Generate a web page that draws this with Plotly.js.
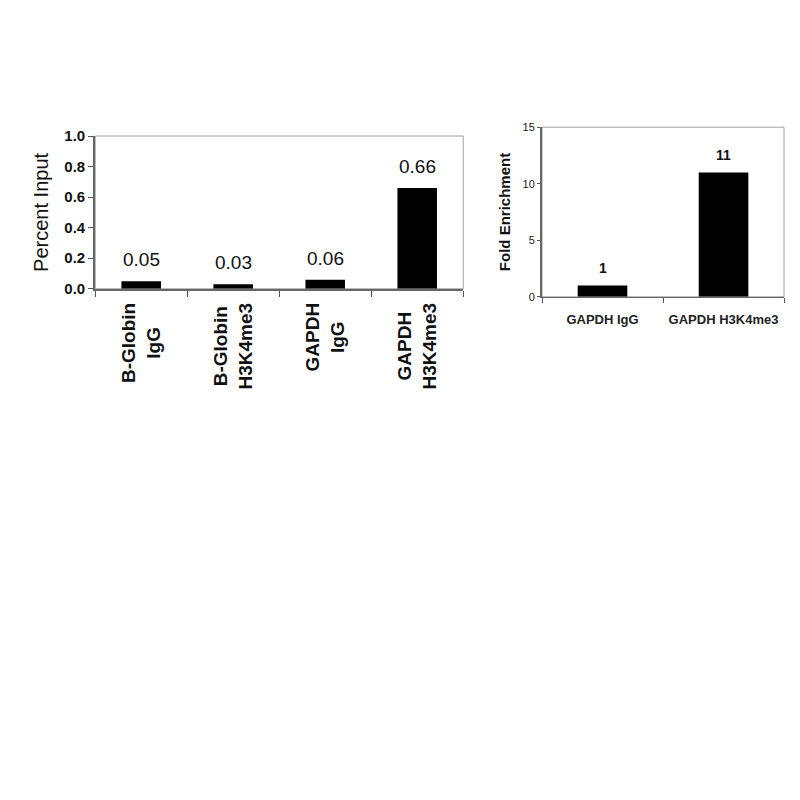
<!DOCTYPE html>
<html>
<head>
<meta charset="utf-8">
<script src="https://cdn.plot.ly/plotly-3.0.1.min.js"></script>
<style>
  html, body { margin: 0; padding: 0; background: #fff; }
  #chart { width: 800px; height: 800px; }
</style>
</head>
<body>
<div id="chart"></div>
<script>
  // left panel : percent input
  const pctCats = ['B-Globin<br>IgG', 'B-Globin<br>H3K4me3', 'GAPDH<br>IgG', 'GAPDH<br>H3K4me3'];
  const pctVals = [0.05, 0.03, 0.06, 0.66];
  const pctText = ['0.05', '0.03', '0.06', '0.66'];
  const pctTicks = [0, 0.2, 0.4, 0.6, 0.8, 1.0];

  // right panel : fold enrichment
  const foldCats = ['GAPDH IgG', 'GAPDH H3K4me3'];
  const foldVals = [1, 11];
  const foldText = ['1', '11'];
  const foldTicks = [0, 5, 10, 15];

  const fnt = 'Liberation Sans, Arial, sans-serif';

  let trace1 = { type: 'bar', x: pctCats, y: pctVals, xaxis: 'x', yaxis: 'y',
                 width: 0.43, marker: { color: '#000' }, hoverinfo: 'skip' };
  let trace2 = { type: 'bar', x: foldCats, y: foldVals, xaxis: 'x2', yaxis: 'y2',
                 width: 0.41, marker: { color: '#000' }, hoverinfo: 'skip' };

  let annots = [];
  for (let i = 0; i < pctCats.length; i++) {
    annots.push({ x: pctCats[i], y: pctVals[i], xref: 'x', yref: 'y', text: pctText[i],
                  showarrow: false, yanchor: 'bottom', yshift: 9,
                  font: { family: fnt, size: 19, color: '#111' } });
    // category names, rotated, lines centred on each other
    annots.push({ x: pctCats[i], y: 0, xref: 'x', yref: 'y domain', text: pctCats[i],
                  showarrow: false, textangle: -90, align: 'center',
                  xanchor: 'center', yanchor: 'top', yshift: -12,
                  font: { family: fnt, size: 19, color: '#111', weight: 'bold' } });
  }
  for (let i = 0; i < foldCats.length; i++) {
    annots.push({ x: foldCats[i], y: foldVals[i], xref: 'x2', yref: 'y2', text: foldText[i],
                  showarrow: false, yanchor: 'bottom', yshift: 7,
                  font: { family: fnt, size: 14, color: '#111', weight: 'bold' } });
  }

  let frame = (xr, yr) => ({ type: 'rect', xref: xr + ' domain', yref: yr + ' domain',
                             x0: 0, x1: 1, y0: 0, y1: 1, layer: 'below',
                             line: { color: '#a0a0a0', width: 1 } });

  let layout = {
    width: 800, height: 800, showlegend: false,
    paper_bgcolor: '#fff', plot_bgcolor: '#fff',
    margin: { l: 0, r: 0, t: 0, b: 0 },
    font: { family: fnt, color: '#111' },
    xaxis: { domain: [0.119, 0.579], anchor: 'y', type: 'category', tickson: 'boundaries',
             ticks: 'outside', ticklen: 6, tickcolor: '#555', tickwidth: 1,
             showline: true, linecolor: '#666', linewidth: 2, showgrid: false,
             showticklabels: false, fixedrange: true },
    yaxis: { domain: [0.639, 0.83], anchor: 'x', range: [0, 1], tickvals: pctTicks,
             tickformat: '.1f', ticks: 'outside', ticklen: 5, tickcolor: '#555',
             showline: true, linecolor: '#666', linewidth: 2, showgrid: false, zeroline: false,
             tickfont: { family: fnt, size: 15, weight: 'bold', color: '#111' },
             title: { text: 'Percent Input', standoff: 10, font: { family: fnt, size: 20, color: '#111' } } },
    xaxis2: { domain: [0.6775, 0.98], anchor: 'y2', type: 'category', tickson: 'boundaries',
              ticks: 'outside', ticklen: 5, tickcolor: '#555', tickwidth: 1,
              showline: true, linecolor: '#666', linewidth: 1.5, showgrid: false,
              tickangle: 0, ticklabelstandoff: 10,
              tickfont: { family: fnt, size: 13, weight: 'bold', color: '#222' } },
    yaxis2: { domain: [0.629, 0.841], anchor: 'x2', range: [0, 15], tickvals: foldTicks,
              ticks: 'outside', ticklen: 3, tickcolor: '#555',
              showline: true, linecolor: '#666', linewidth: 2, showgrid: false, zeroline: false,
              tickfont: { family: fnt, size: 11, color: '#222' },
              title: { text: 'Fold Enrichment', standoff: 8, font: { family: fnt, size: 15, weight: 'bold', color: '#111' } } },
    shapes: [frame('x', 'y'), frame('x2', 'y2')],
    annotations: annots
  };

  Plotly.newPlot('chart', [trace1, trace2], layout, { staticPlot: true });
</script>
</body>
</html>
